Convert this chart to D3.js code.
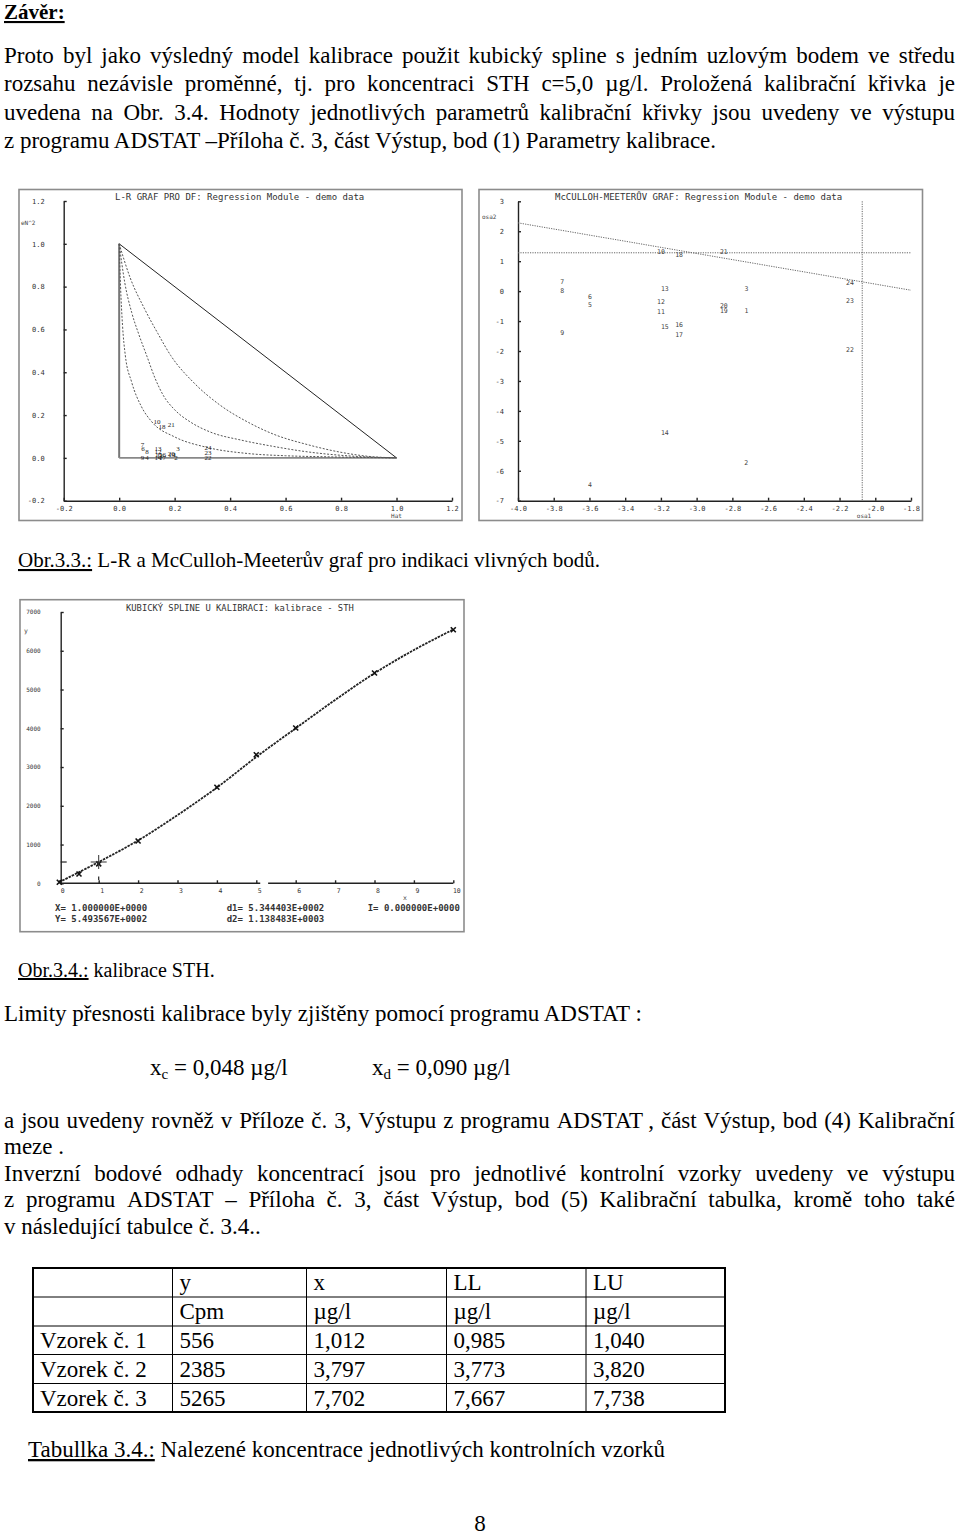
<!DOCTYPE html>
<html><head><meta charset="utf-8">
<script src="https://cdn.jsdelivr.net/npm/d3@7"></script>
<style>body{margin:0;background:#fff}svg{display:block}</style>
</head><body>
<svg id="page" width="960" height="1537"></svg>
<script>
// ---------------- DATA ----------------
// L-R graph: points (leverage h, normalized squared residual eN^2)
const lrLabels = ["10","18","21","7","6","8","9","4","13","12","15","16","11","14","17","20","19","3","1","2","24","23","22"];
const lrH      = [0.136,0.154,0.188,0.084,0.086,0.100,0.084,0.100,0.140,0.140,0.142,0.156,0.148,0.140,0.156,0.188,0.190,0.212,0.200,0.205,0.320,0.320,0.320];
const lrE2     = [0.168,0.145,0.156,0.062,0.046,0.032,0.004,0.000,0.046,0.030,0.018,0.016,0.010,0.000,0.000,0.022,0.014,0.044,0.018,0.000,0.050,0.024,0.000];
const lrTicks  = [-0.2,0.0,0.2,0.4,0.6,0.8,1.0,1.2];
// contour curves of L-R graph
const contA_h = [0,0.005,0.012,0.022,0.045,0.08,0.118,0.2,0.31,0.467,0.6,0.75,0.88,1.0];
const contA_e = [1.0,0.8,0.62,0.48,0.354,0.24,0.168,0.098,0.051,0.02,0.01,0.005,0.002,0];
const contB_h = [0,0.02,0.045,0.07,0.1,0.13,0.16,0.2,0.26,0.33,0.44,0.55,0.68,0.8,0.9,1.0];
const contB_e = [1.0,0.82,0.68,0.58,0.475,0.37,0.29,0.225,0.165,0.12,0.083,0.055,0.028,0.012,0.004,0];
const contC_h = [0,0.04,0.09,0.14,0.186,0.27,0.36,0.467,0.558,0.679,0.8,0.9,1.0];
const contC_e = [1.0,0.84,0.7,0.58,0.478,0.35,0.25,0.165,0.11,0.062,0.026,0.007,0];

// McCulloh-Meeter graph: points (osa1, osa2)
const mmLabels = ["7","8","6","5","9","10","18","13","12","11","15","16","17","21","3","20","19","1","24","23","22","14","4","2"];
const mmOsa1   = [-3.753,-3.753,-3.597,-3.597,-3.753,-3.200,-3.098,-3.178,-3.200,-3.200,-3.178,-3.098,-3.098,-2.848,-2.721,-2.848,-2.848,-2.721,-2.142,-2.142,-2.142,-3.178,-3.597,-2.723];
const mmOsa2   = [0.31,0.01,-0.17,-0.47,-1.39,1.33,1.20,0.09,-0.35,-0.69,-1.19,-1.13,-1.47,1.33,0.09,-0.49,-0.64,-0.64,0.29,-0.32,-1.94,-4.72,-6.45,-5.72];
const mmXTicks = [-4.0,-3.8,-3.6,-3.4,-3.2,-3.0,-2.8,-2.6,-2.4,-2.2,-2.0,-1.8];
const mmYTicks = [3,2,1,0,-1,-2,-3,-4,-5,-6,-7];
const mmHLine  = 1.28;             // horizontal limit
const mmVLine  = -2.073;           // vertical limit
const mmSlopeX = [-4.0,-1.8];      // sloped limit line
const mmSlopeY = [2.28,0.03];

// Calibration (cubic spline)
const calX = [0,0.5,1,2,4,5,6,8,10];
const calY = [26,240,500,1091,2477,3318,4007,5426,6543];
const splX = [0,1,2,3,4,5,6,7,8,9,10];
const splY = [30,549,1105,1760,2470,3260,4000,4730,5420,6020,6550];
const spXTicks = [0,1,2,3,4,5,6,7,8,9,10];
const spYTicks = [0,1000,2000,3000,4000,5000,6000,7000];
const cursorX = 1.0, cursorY = 549.3567;
const spText = [["X= 1.000000E+0000","Y= 5.493567E+0002"],["d1= 5.344403E+0002","d2= 1.138483E+0003"],["I= 0.000000E+0000",""]];

// Table
const tabHead1 = ["y","x","LL","LU"];
const tabHead2 = ["Cpm","µg/l","µg/l","µg/l"];
const tabNames = ["Vzorek č. 1","Vzorek č. 2","Vzorek č. 3"];
const tabY  = ["556","2385","5265"];
const tabX  = ["1,012","3,797","7,702"];
const tabLL = ["0,985","3,773","7,667"];
const tabLU = ["1,040","3,820","7,738"];

// ---------------- DRAW ----------------
const svg = d3.select('#page');
const serif = "'Liberation Serif','Times New Roman',serif";
const mono = "'DejaVu Sans Mono',monospace";
const FS = 23;

function txt(x, y, s, o = {}) {
  return svg.append('text').attr('x', x).attr('y', y).text(s)
    .attr('font-family', o.ff || serif).attr('font-size', o.fs || FS)
    .attr('font-weight', o.fw || 'normal').attr('fill', o.fill || '#000')
    .attr('text-anchor', o.anchor || 'start')
    .attr('text-decoration', o.dec || null);
}
function justify(s, x0, x1, y) {
  const t = svg.append('text').attr('y', y).attr('font-family', serif).attr('font-size', FS);
  const words = s.split(' ');
  const spans = words.map(w => t.append('tspan').text(w));
  const w = spans.map(sp => sp.node().getComputedTextLength());
  const tot = d3.sum(w);
  const gap = Math.max(2, (x1 - x0 - tot) / (words.length - 1));
  let x = x0;
  spans.forEach((sp, i) => { sp.attr('x', x); x += w[i] + gap; });
}
function underlinedPrefix(x, y, pre, rest, fs) {
  const t = svg.append('text').attr('x', x).attr('y', y).attr('font-family', serif).attr('font-size', fs || FS);
  t.append('tspan').text(pre).attr('text-decoration', 'underline');
  if (rest) t.append('tspan').text(rest);
  return t;
}

// Header and paragraph
txt(4, 19, 'Závěr:', {fw: 'bold', dec: 'underline', fs: 21});
justify('Proto byl jako výsledný model kalibrace použit kubický spline s jedním uzlovým bodem ve středu', 4, 955, 63);
justify('rozsahu nezávisle proměnné, tj. pro koncentraci STH c=5,0 µg/l. Proložená kalibrační křivka je', 4, 955, 91);
justify('uvedena na Obr. 3.4. Hodnoty jednotlivých parametrů kalibrační křivky jsou uvedeny ve výstupu', 4, 955, 120);
txt(4, 148, 'z programu ADSTAT –Příloha č. 3, část Výstup, bod (1) Parametry kalibrace.');

// ---------- L-R chart ----------
{
  const g = svg.append('g');
  g.append('rect').attr('x', 19).attr('y', 189.5).attr('width', 443).attr('height', 331)
    .attr('fill', 'none').attr('stroke', '#8c8c8c').attr('stroke-width', 1.6);
  const x = d3.scaleLinear().domain([-0.2, 1.2]).range([63.7, 452]);
  const y = d3.scaleLinear().domain([-0.2, 1.2]).range([500.7, 201]);
  const fmt = v => (v < 0 ? '-' : '') + Math.abs(v).toFixed(1);
  const ax = g.append('g').attr('transform', `translate(0,${y(-0.2)})`)
    .call(d3.axisBottom(x).tickValues(lrTicks).tickSize(-3).tickSizeOuter(0).tickPadding(5).tickFormat(fmt));
  const ay = g.append('g').attr('transform', `translate(${x(-0.2)},0)`)
    .call(d3.axisLeft(y).tickValues(lrTicks).tickSize(-3).tickSizeOuter(0).tickPadding(19).tickFormat(fmt));
  [ax, ay].forEach(a => {
    a.selectAll('path,line').attr('stroke', '#222').attr('stroke-width', 1.4);
    a.selectAll('text').attr('font-family', mono).attr('font-size', 7).attr('fill', '#333');
  });
  g.append('text').attr('x', 115).attr('y', 200).text('L-R GRAF PRO DF: Regression Module - demo data')
    .attr('font-family', mono).attr('font-size', 9).attr('fill', '#333');
  g.append('text').attr('x', 21).attr('y', 225).text('eN^2').attr('font-family', mono).attr('font-size', 6).attr('fill', '#444');
  g.append('text').attr('x', x(1.0)).attr('y', 518).text('Hat').attr('text-anchor', 'middle')
    .attr('font-family', mono).attr('font-size', 6).attr('fill', '#444');
  g.append('line').attr('x1', x(0)).attr('x2', x(0)).attr('y1', y(0)).attr('y2', y(1))
    .attr('stroke', '#777').attr('stroke-width', 2);
  g.append('line').attr('x1', x(0)).attr('x2', x(1)).attr('y1', y(0)).attr('y2', y(0))
    .attr('stroke', '#888').attr('stroke-width', 1.8);
  g.append('line').attr('x1', x(0)).attr('x2', x(1)).attr('y1', y(1)).attr('y2', y(0))
    .attr('stroke', '#222').attr('stroke-width', 1);
  const line = d3.line().x(d => x(d[0])).y(d => y(d[1])).curve(d3.curveMonotoneX);
  [[contA_h, contA_e], [contB_h, contB_e], [contC_h, contC_e]].forEach(([hs, es]) => {
    g.append('path').attr('d', line(hs.map((h, i) => [h, es[i]])))
      .attr('fill', 'none').attr('stroke', '#555').attr('stroke-width', 1).attr('stroke-dasharray', '2,1.6');
  });
  g.selectAll('text.lr').data(lrLabels).enter().append('text').attr('class', 'lr')
    .attr('x', (d, i) => x(lrH[i])).attr('y', (d, i) => y(lrE2[i]) + 2.5)
    .attr('text-anchor', 'middle').text(d => d)
    .attr('font-family', serif).attr('font-size', 7).attr('fill', '#222');
}

// ---------- McCulloh-Meeter chart ----------
{
  const g = svg.append('g');
  g.append('rect').attr('x', 479).attr('y', 189.5).attr('width', 443.5).attr('height', 331)
    .attr('fill', 'none').attr('stroke', '#8c8c8c').attr('stroke-width', 1.6);
  const x = d3.scaleLinear().domain([-4, -1.8]).range([518, 911]);
  const y = d3.scaleLinear().domain([-7, 3]).range([500.7, 201.3]);
  const fx = v => (v < 0 ? '-' : '') + Math.abs(v).toFixed(1);
  const fy = v => (v < 0 ? '-' : '') + Math.abs(v);
  const ax = g.append('g').attr('transform', `translate(0,${y(-7)})`)
    .call(d3.axisBottom(x).tickValues(mmXTicks).tickSize(-3).tickSizeOuter(0).tickPadding(5).tickFormat(fx));
  const ay = g.append('g').attr('transform', `translate(${x(-4)},0)`)
    .call(d3.axisLeft(y).tickValues(mmYTicks).tickSize(-3).tickSizeOuter(0).tickPadding(14).tickFormat(fy));
  [ax, ay].forEach(a => {
    a.selectAll('path,line').attr('stroke', '#222').attr('stroke-width', 1.4);
    a.selectAll('text').attr('font-family', mono).attr('font-size', 7).attr('fill', '#333');
  });
  g.append('text').attr('x', 555).attr('y', 200).text('McCULLOH-MEETERŮV GRAF: Regression Module - demo data')
    .attr('font-family', mono).attr('font-size', 9).attr('fill', '#333');
  g.append('text').attr('x', 482).attr('y', 219).text('osa2').attr('font-family', mono).attr('font-size', 6).attr('fill', '#444');
  g.append('text').attr('x', 864).attr('y', 518).text('osa1').attr('text-anchor', 'middle')
    .attr('font-family', mono).attr('font-size', 6).attr('fill', '#444');
  const dot = s => s.attr('fill', 'none').attr('stroke', '#666').attr('stroke-width', 1).attr('stroke-dasharray', '1.2,1.2');
  g.append('line').attr('x1', x(-4)).attr('x2', x(-1.8)).attr('y1', y(mmHLine)).attr('y2', y(mmHLine)).call(dot);
  g.append('line').attr('x1', x(mmVLine)).attr('x2', x(mmVLine)).attr('y1', y(3)).attr('y2', y(-7)).call(dot);
  g.append('line').attr('x1', x(mmSlopeX[0])).attr('x2', x(mmSlopeX[1]))
    .attr('y1', y(mmSlopeY[0])).attr('y2', y(mmSlopeY[1])).call(dot);
  g.selectAll('text.mm').data(mmLabels).enter().append('text').attr('class', 'mm')
    .attr('x', (d, i) => x(mmOsa1[i])).attr('y', (d, i) => y(mmOsa2[i]) + 2.3)
    .attr('text-anchor', 'middle').text(d => d)
    .attr('font-family', mono).attr('font-size', 6.5).attr('fill', '#444');
}

underlinedPrefix(18, 567, 'Obr.3.3.:', ' L-R a McCulloh-Meeterův graf pro indikaci vlivných bodů.', 21);

// ---------- Spline chart ----------
{
  const g = svg.append('g');
  g.append('rect').attr('x', 20).attr('y', 599.7).attr('width', 444).attr('height', 332)
    .attr('fill', 'none').attr('stroke', '#8c8c8c').attr('stroke-width', 1.6);
  const x = d3.scaleLinear().domain([0, 10]).range([59.3, 453.3]);
  const y = d3.scaleLinear().domain([0, 7000]).range([883.3, 612]);
  const ay = g.append('g').attr('transform', `translate(60.7,0)`)
    .call(d3.axisLeft(y).tickValues(spYTicks).tickSize(-3).tickSizeOuter(0).tickPadding(20).tickFormat(d3.format('d')));
  ay.selectAll('path,line').attr('stroke', '#222').attr('stroke-width', 1.4);
  ay.selectAll('text').attr('font-family', mono).attr('font-size', 6).attr('fill', '#333');
  const ax = g.append('g').attr('transform', `translate(0,${y(0)})`)
    .call(d3.axisBottom(x).tickValues(spXTicks).tickSize(-3).tickSizeOuter(0).tickPadding(5).tickFormat(d3.format('d')));
  ax.select('path').remove();
  ax.selectAll('line').attr('stroke', '#222').attr('stroke-width', 1.4);
  ax.selectAll('text').attr('font-family', mono).attr('font-size', 6.5).attr('fill', '#333').attr('dx', 3);
  g.append('line').attr('x1', 60.7).attr('x2', x(5.1)).attr('y1', y(0)).attr('y2', y(0)).attr('stroke', '#222').attr('stroke-width', 1.4);
  g.append('line').attr('x1', x(5.3)).attr('x2', x(10)).attr('y1', y(0)).attr('y2', y(0)).attr('stroke', '#222').attr('stroke-width', 1.4);
  g.append('text').attr('x', 126).attr('y', 611).text('KUBICKÝ SPLINE U KALIBRACI: kalibrace - STH')
    .attr('font-family', mono).attr('font-size', 8.8).attr('fill', '#333');
  g.append('text').attr('x', 24).attr('y', 633).text('y').attr('font-family', mono).attr('font-size', 6.5).attr('fill', '#444');
  g.append('text').attr('x', 405).attr('y', 900).text('x').attr('text-anchor', 'middle').attr('font-family', mono).attr('font-size', 6.5).attr('fill', '#444');
  const line = d3.line().x(d => x(d[0])).y(d => y(d[1])).curve(d3.curveCatmullRom);
  g.append('path').attr('d', line(splX.map((v, i) => [v, splY[i]])))
    .attr('fill', 'none').attr('stroke', '#222').attr('stroke-width', 1.8).attr('stroke-dasharray', '2.5,1');
  calX.forEach((v, i) => {
    const cx = x(v), cy = y(calY[i]);
    g.append('path').attr('d', `M${cx - 2.5},${cy - 2.5}L${cx + 2.5},${cy + 2.5}M${cx - 2.5},${cy + 2.5}L${cx + 2.5},${cy - 2.5}`)
      .attr('stroke', '#111').attr('stroke-width', 1.6);
  });
  const cx = x(cursorX), cy = y(cursorY);
  g.append('path').attr('d', `M${cx},${cy - 7}L${cx},${cy + 7}M${cx - 8},${cy}L${cx + 8},${cy}`)
    .attr('stroke', '#333').attr('stroke-width', 1);
  g.append('line').attr('x1', 60.7).attr('x2', 66.7).attr('y1', cy).attr('y2', cy).attr('stroke', '#222').attr('stroke-width', 1.2);
  g.append('line').attr('x1', cx).attr('x2', cx).attr('y1', 876.5).attr('y2', 880).attr('stroke', '#222').attr('stroke-width', 1.2);
  const colX = [55, 226.7, 367.7];
  spText.forEach((col, ci) => col.forEach((s, ri) => {
    g.append('text').attr('x', colX[ci]).attr('y', 911 + ri * 11.3).text(s)
      .attr('font-family', mono).attr('font-size', 9).attr('font-weight', 'bold').attr('fill', '#333');
  }));
}

underlinedPrefix(18, 977, 'Obr.3.4.:', ' kalibrace STH.', 20);
txt(4, 1021, 'Limity přesnosti kalibrace byly zjištěny pomocí programu ADSTAT :');
{
  [[150, 'c', ' = 0,048 µg/l'], [372, 'd', ' = 0,090 µg/l']].forEach(([x0, sub, rest]) => {
    const t = svg.append('text').attr('x', x0).attr('y', 1075).attr('font-family', serif).attr('font-size', FS);
    t.append('tspan').text('x');
    t.append('tspan').text(sub).attr('font-size', 15).attr('dy', 4);
    t.append('tspan').text(rest).attr('dy', -4);
  });
}
justify('a jsou uvedeny rovněž v Příloze č. 3, Výstupu z programu ADSTAT , část Výstup, bod (4) Kalibrační', 4, 955, 1128);
txt(4, 1154, 'meze .');
justify('Inverzní bodové odhady koncentrací jsou pro jednotlivé kontrolní vzorky uvedeny ve výstupu', 4, 955, 1181);
justify('z programu ADSTAT – Příloha č. 3, část Výstup, bod (5) Kalibrační tabulka, kromě toho také', 4, 955, 1207);
txt(4, 1234, 'v následující tabulce č. 3.4..');

// ---------- Table ----------
{
  const colX = [33, 172.5, 306.5, 446.5, 586, 725];
  const rowY = [1268, 1297, 1326, 1354.5, 1383.5, 1412];
  const g = svg.append('g');
  const L = (x1, y1, x2, y2, w) => g.append('line').attr('x1', x1).attr('y1', y1).attr('x2', x2).attr('y2', y2)
    .attr('stroke', '#000').attr('stroke-width', w);
  for (let r = 1; r < rowY.length - 1; r++) L(colX[0], rowY[r], colX[5], rowY[r], 1);
  for (let c = 1; c < colX.length - 1; c++) L(colX[c], rowY[0], colX[c], rowY[5], 1);
  g.append('rect').attr('x', colX[0]).attr('y', rowY[0]).attr('width', colX[5] - colX[0]).attr('height', rowY[5] - rowY[0])
    .attr('fill', 'none').attr('stroke', '#000').attr('stroke-width', 2);
  const rows = [["", ...tabHead1], ["", ...tabHead2]];
  tabNames.forEach((n, i) => rows.push([n, tabY[i], tabX[i], tabLL[i], tabLU[i]]));
  rows.forEach((r, ri) => r.forEach((s, ci) => {
    g.append('text').attr('x', colX[ci] + 7).attr('y', rowY[ri] + 22).text(s)
      .attr('font-family', serif).attr('font-size', FS);
  }));
}

underlinedPrefix(28, 1457, 'Tabullka 3.4.:', ' Nalezené koncentrace jednotlivých kontrolních vzorků');
txt(480, 1531, '8', {anchor: 'middle'});
</script>
</body></html>
